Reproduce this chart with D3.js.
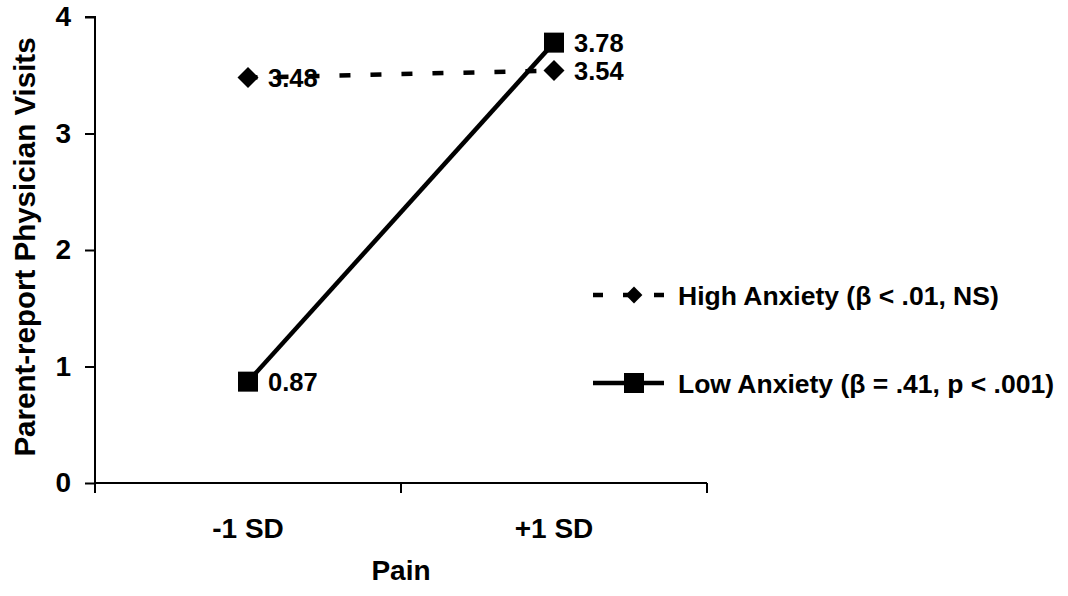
<!DOCTYPE html>
<html>
<head>
<meta charset="utf-8">
<script src="https://cdn.jsdelivr.net/npm/d3@7"></script>
<style>
  html, body { margin: 0; padding: 0; background: #fff; }
  text { font-family: "Liberation Sans", Arial, sans-serif; font-weight: bold; fill: #000; }
</style>
</head>
<body>
<svg id="chart" width="1068" height="596"></svg>
<script>
const categories = ["-1 SD", "+1 SD"];
const highAnxiety = [3.48, 3.54];
const lowAnxiety = [0.87, 3.78];
const yTicks = [0, 1, 2, 3, 4];
const seriesNames = ["High Anxiety (\u03b2 < .01, NS)", "Low Anxiety (\u03b2 = .41, p < .001)"];
const xTitle = "Pain";
const yTitle = "Parent-report Physician Visits";

const svg = d3.select("#chart");
const plotLeft = 95, plotRight = 707, plotTop = 17, plotBottom = 483;

const x = d3.scalePoint().domain(categories).range([plotLeft, plotRight]).padding(0.5);
const xBand = d3.scaleBand().domain(categories).range([plotLeft, plotRight]);
const y = d3.scaleLinear().domain([0, 4]).range([plotBottom, plotTop]);

// Axes
const yAxis = d3.axisLeft(y).tickValues(yTicks).tickSize(10).tickPadding(14).tickFormat(d3.format("d"));
const gy = svg.append("g").attr("transform", `translate(${plotLeft},0)`).call(yAxis);
gy.select(".domain").attr("stroke", "#000").attr("stroke-width", 2).attr("d", `M-10,${plotTop}H0V${plotBottom}`);
gy.selectAll(".tick line").attr("stroke", "#000").attr("stroke-width", 2);
gy.selectAll(".tick text").attr("font-size", 28).attr("font-weight", "bold")
  .attr("font-family", '"Liberation Sans", Arial, sans-serif').attr("fill", "#000");

const xBoundaries = [...categories.map(c => xBand(c)), xBand.range()[1]];
const gx = svg.append("g").attr("transform", `translate(0,${plotBottom})`);
gx.append("line").attr("x1", plotLeft).attr("x2", plotRight).attr("stroke", "#000").attr("stroke-width", 2);
gx.selectAll("line.tk").data(xBoundaries).join("line").attr("class", "tk")
  .attr("x1", d => d).attr("x2", d => d).attr("y1", 0).attr("y2", 10)
  .attr("stroke", "#000").attr("stroke-width", 2);
gx.selectAll("text.tl").data(categories).join("text").attr("class", "tl")
  .attr("x", d => x(d)).attr("y", 45).attr("dy", "0.35em")
  .attr("text-anchor", "middle").attr("font-size", 28).text(d => d);

// Titles
svg.append("text").attr("x", (plotLeft + plotRight) / 2).attr("y", 570).attr("dy", "0.35em")
  .attr("text-anchor", "middle").attr("font-size", 28).text(xTitle);
svg.append("text").attr("transform", `translate(25,${(plotTop + plotBottom) / 2 - 3}) rotate(-90)`)
  .attr("dy", "0.35em").attr("text-anchor", "middle").attr("font-size", 29.5).text(yTitle);

// Data labels
const labelData = [];
categories.forEach((c, i) => {
  labelData.push({c, v: highAnxiety[i]});
  labelData.push({c, v: lowAnxiety[i]});
});
svg.selectAll("text.dl").data(labelData).join("text").attr("class", "dl")
  .attr("x", d => x(d.c) + 20).attr("y", d => y(d.v)).attr("dy", "0.36em")
  .attr("font-size", 25.5).text(d => d3.format(".2f")(d.v));

// Lines
const line = d3.line().x((d, i) => x(categories[i])).y(d => y(d));
svg.append("path").datum(highAnxiety).attr("d", line).attr("fill", "none")
  .attr("stroke", "#000").attr("stroke-width", 4.5).attr("stroke-dasharray", "11,20").attr("stroke-dashoffset", 1.5);
svg.append("path").datum(lowAnxiety).attr("d", line).attr("fill", "none")
  .attr("stroke", "#000").attr("stroke-width", 4.5);

// Markers
const diamond = "M0,-10.5L10.5,0L0,10.5L-10.5,0Z";
svg.selectAll("path.dm").data(highAnxiety).join("path").attr("class", "dm")
  .attr("d", diamond).attr("transform", (d, i) => `translate(${x(categories[i])},${y(d)})`).attr("fill", "#000");
svg.selectAll("rect.sq").data(lowAnxiety).join("rect").attr("class", "sq")
  .attr("x", (d, i) => x(categories[i]) - 10).attr("y", d => y(d) - 10)
  .attr("width", 20).attr("height", 20).attr("fill", "#000");

// Legend
const legY = [295, 383];
const lg = svg.append("g");
lg.append("line").attr("x1", 593).attr("x2", 664).attr("y1", legY[0]).attr("y2", legY[0])
  .attr("stroke", "#000").attr("stroke-width", 4.5).attr("stroke-dasharray", "11,20").attr("stroke-dashoffset", 1);
lg.append("path").attr("d", diamond).attr("transform", `translate(634,${legY[0]}) scale(0.8)`).attr("fill", "#000");
lg.append("text").attr("x", 678).attr("y", legY[0]).attr("dy", "0.36em").attr("font-size", 26.5).text(seriesNames[0]);
lg.append("line").attr("x1", 593).attr("x2", 664).attr("y1", legY[1]).attr("y2", legY[1])
  .attr("stroke", "#000").attr("stroke-width", 4.5);
lg.append("rect").attr("x", 624).attr("y", legY[1] - 10).attr("width", 20).attr("height", 20).attr("fill", "#000");
lg.append("text").attr("x", 678).attr("y", legY[1]).attr("dy", "0.36em").attr("font-size", 26.5).text(seriesNames[1]);
</script>
</body>
</html>
